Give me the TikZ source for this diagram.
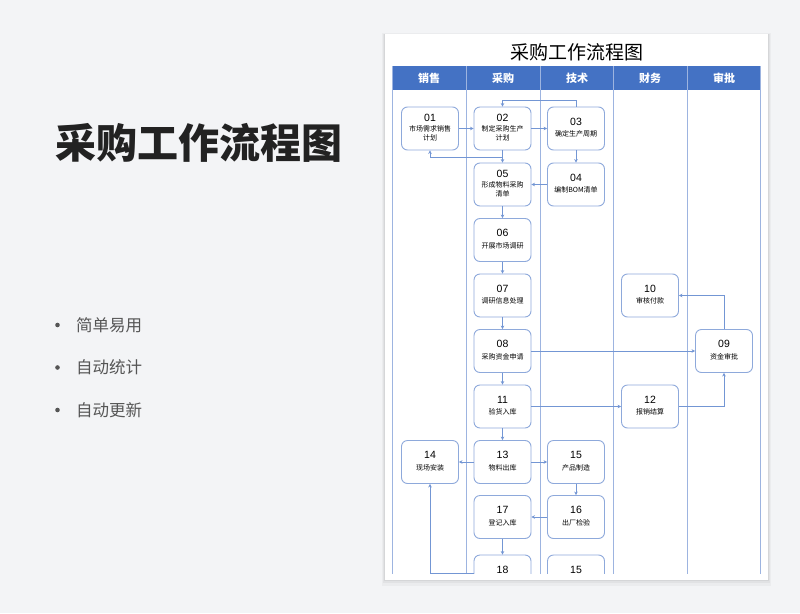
\documentclass[tikz,border=0pt]{standalone}
\usepackage{fontspec}
\setmainfont{Liberation Sans}
\newfontfamily\cjk{Noto Sans CJK SC}
\usetikzlibrary{arrows.meta,calc}
\definecolor{pagebg}{HTML}{F3F4F6}
\definecolor{headblue}{HTML}{4472C4}
\definecolor{colline}{HTML}{9DB4E0}
\definecolor{boxline}{HTML}{8EA9DB}
\definecolor{connc}{HTML}{7396D4}
\definecolor{bigtext}{HTML}{222222}
\definecolor{bultext}{HTML}{555555}
\tikzset{
  flowbox/.style={draw=boxline, line width=0.9pt, rounded corners=6pt, fill=white,
    minimum width=57pt, minimum height=43pt, inner sep=0pt},
  conn/.style={draw=connc, line width=0.7pt, -{Stealth[length=3.5pt,width=3.5pt]}},
  collane/.style={draw=colline, line width=0.9pt},
  headtxt/.style={text=white, font=\cjk\bfseries\fontsize{11}{12}\selectfont},
  bultxt/.style={anchor=west, inner sep=0pt, text=bultext, font=\cjk\fontsize{16.5}{18}\selectfont},
  bulmark/.style={circle, fill=bultext, draw=none, inner sep=0pt, minimum size=4.6pt}
}
\newcommand{\flownode}[5]{\node[flowbox] (#1) at (#2,#3) {\begin{tabular}{@{}c@{}}{\fontsize{10.5}{12}\selectfont #4}\\[-1pt]{\cjk\fontsize{7}{9.5}\selectfont\begin{tabular}{@{}c@{}}#5\end{tabular}}\end{tabular}};}
\begin{document}
\begin{tikzpicture}[x=1pt,y=-1pt]
\useasboundingbox (0,0) rectangle (800,613);
\fill[pagebg] (0,0) rectangle (800,613);
% card shadow
\fill[black,opacity=0.03] (382,33) rectangle (771,586);
\fill[black,opacity=0.04] (383,34) rectangle (770,583);
\fill[black,opacity=0.05] (384,34) rectangle (769,581);
\fill[white] (385,34) rectangle (768,580);
% left side texts
\node[anchor=west, inner sep=0pt, text=bigtext, font=\cjk\bfseries\fontsize{41}{44}\selectfont] (bigtitle) at (55,143) {采购工作流程图};
\node[bulmark] (b1) at (57.5,325) {};
\node[bultxt] (t1) at (76,325) {简单易用};
\node[bulmark] (b2) at (57.5,367.5) {};
\node[bultxt] (t2) at (76,367.5) {自动统计};
\node[bulmark] (b3) at (57.5,410) {};
\node[bultxt] (t3) at (76,410) {自动更新};
% card title
\node[font=\cjk\fontsize{19}{21}\selectfont] (ctitle) at (577,52) {采购工作流程图};
\begin{scope}
\clip (385,34) rectangle (768,573.5);
% header
\fill[headblue] (392,66) rectangle (761,90);
\foreach \xx in {392.5,466.5,540,613.5,687,760.5}{
  \draw[collane] (\xx,66) -- (\xx,580);
}
\node[headtxt] (h1) at (429,78) {销售};
\node[headtxt] (h2) at (503,78) {采购};
\node[headtxt] (h3) at (577,78) {技术};
\node[headtxt] (h4) at (650,78) {财务};
\node[headtxt] (h5) at (724,78) {审批};
% boxes
\flownode{n01}{430}{128.5}{01}{市场需求销售\\计划}
\flownode{n02}{502.5}{128.5}{02}{制定采购生产\\计划}
\flownode{n03}{576}{128.5}{03}{确定生产周期}
\flownode{n04}{576}{184.5}{04}{编制BOM清单}
\flownode{n05}{502.5}{184.5}{05}{形成物料采购\\清单}
\flownode{n06}{502.5}{240}{06}{开展市场调研}
\flownode{n07}{502.5}{295.5}{07}{调研信息处理}
\flownode{n08}{502.5}{351}{08}{采购资金申请}
\flownode{n09}{724}{351}{09}{资金审批}
\flownode{n10}{650}{295.5}{10}{审核付款}
\flownode{n11}{502.5}{406.5}{11}{验货入库}
\flownode{n12}{650}{406.5}{12}{报销结算}
\flownode{n13}{502.5}{462}{13}{物料出库}
\flownode{n14}{430}{462}{14}{现场安装}
\flownode{n15}{576}{462}{15}{产品制造}
\flownode{n16}{576}{517}{16}{出厂检验}
\flownode{n17}{502.5}{517}{17}{登记入库}
\flownode{n18}{502.5}{576.5}{18}{\phantom{入库}}
\flownode{n15b}{576}{576.5}{15}{\phantom{入库}}
% connectors
\draw[conn] (n01) -- (n02);
\draw[conn] (n02) -- (n03);
\draw[conn] (n03.north) |- ($(n02.north)+(0,-6)$) -- (n02.north);
\draw[conn] (n02.south) -- ++(0,7) -| (n01.south);
\draw[conn] (n02) -- (n05);
\draw[conn] (n03) -- (n04);
\draw[conn] (n04) -- (n05);
\draw[conn] (n05) -- (n06);
\draw[conn] (n06) -- (n07);
\draw[conn] (n07) -- (n08);
\draw[conn] (n08) -- (n11);
\draw[conn] (n11) -- (n13);
\draw[conn] (n08) -- (n09);
\draw[conn] (n09.north) |- (n10.east);
\draw[conn] (n11) -- (n12);
\draw[conn] (n12.east) -| (n09.south);
\draw[conn] (n13) -- (n14);
\draw[conn] (n13) -- (n15);
\draw[conn] (n15) -- (n16);
\draw[conn] (n16) -- (n17);
\draw[conn] (n17) -- (n18);
\draw[conn] ($(n18.west)+(0,-3.5)$) -| (n14.south);
\end{scope}
\end{tikzpicture}
\end{document}
